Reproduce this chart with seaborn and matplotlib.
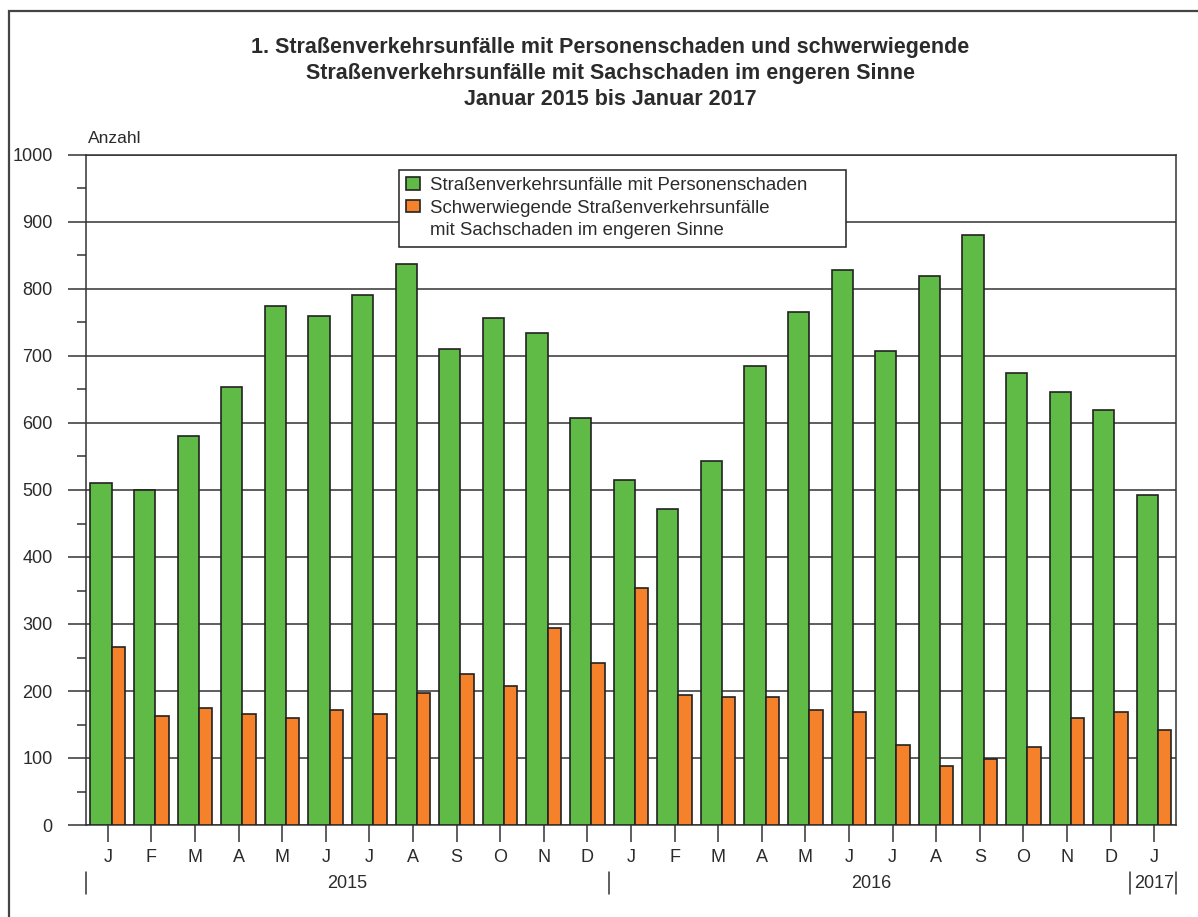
import numpy as np
import pandas as pd
import matplotlib
matplotlib.use("Agg")
import matplotlib.pyplot as plt
import matplotlib.patches as mpatches
import matplotlib.transforms as mtransforms
import matplotlib.colors as mcolors
import seaborn as sns

# --- Daten: Januar 2015 bis Januar 2017 ---
monate = ["J", "F", "M", "A", "M", "J", "J", "A", "S", "O", "N", "D",
          "J", "F", "M", "A", "M", "J", "J", "A", "S", "O", "N", "D",
          "J"]
schluessel = [f"{j}-{m:02d}" for j in (2015, 2016) for m in range(1, 13)] + ["2017-01"]

personenschaden = [510, 500, 580, 654, 774, 759, 791, 837, 710, 756, 734, 607,
                   515, 472, 544, 685, 765, 828, 708, 820, 880, 675, 647, 619,
                   492]
sachschaden = [265, 163, 174, 166, 160, 171, 166, 197, 225, 208, 294, 242,
               354, 194, 191, 191, 171, 168, 119, 88, 98, 116, 159, 168,
               142]

jahre = ["2015", "2016", "2017"]
jahr_mitte = [5.5, 17.5, 24]
jahr_grenzen = [-0.5, 11.5, 23.45, 24.5]

lab_p = "Straßenverkehrsunfälle mit Personenschaden      "
lab_s1 = "Schwerwiegende Straßenverkehrsunfälle"
lab_s2 = "mit Sachschaden im engeren Sinne"

df = pd.DataFrame({
    "monat": schluessel * 2,
    "anzahl": personenschaden + sachschaden,
    "reihe": ["P"] * len(schluessel) + ["S"] * len(schluessel),
})

GRUEN = "#5fba46"
ORANGE = "#f5822b"
TEXT = "#2b2b2b"
LINIE = "#333333"

sns.set_theme(style="white")
plt.rcParams["font.family"] = ["Liberation Sans", "DejaVu Sans"]
plt.rcParams["text.color"] = TEXT

fig = plt.figure(figsize=(11.98, 9.17), dpi=100)
ax = fig.add_axes([86 / 1198, 1 - 825 / 917, 1090 / 1198, 670 / 917])

sns.barplot(data=df, x="monat", y="anzahl", hue="reihe", order=schluessel,
            palette={"P": GRUEN, "S": ORANGE}, width=0.8, dodge=True,
            edgecolor="#222222", linewidth=1.2, saturation=1, ax=ax,
            legend=False, zorder=3)

# Balkenbreiten wie im Original: grün breiter, orange schmaler
gruen_r = mcolors.to_rgba(GRUEN)[0]
for p in ax.patches:
    x0 = p.get_x()
    if np.isclose(p.get_facecolor()[0], gruen_r, atol=0.02):
        p.set_width(0.485)
    else:
        p.set_x(x0 + 0.085)
        p.set_width(0.31)

ax.set_xlim(-0.5, 24.5)
ax.set_ylim(0, 1000)
ax.set_yticks(range(0, 1001, 100))
ax.set_yticks(range(50, 1000, 100), minor=True)
ax.set_xticks(range(len(monate)))
ax.set_xticklabels(monate)
ax.set_xlabel("")
ax.set_ylabel("")
ax.yaxis.grid(True, color=LINIE, linewidth=1.1, zorder=0)
ax.set_axisbelow(True)

for s in ax.spines.values():
    s.set_color(LINIE)
    s.set_linewidth(1.1)

ax.tick_params(axis="y", which="major", direction="out", length=13, width=1.1,
               color=LINIE, pad=11, labelsize=13, labelcolor=TEXT, left=True)
ax.tick_params(axis="y", which="minor", direction="out", length=6.5, width=1.1,
               color=LINIE, left=True)
ax.tick_params(axis="x", direction="out", length=12, width=1.1, color=LINIE,
               pad=5, labelsize=13, labelcolor=TEXT, bottom=True)

# Jahresbeschriftung
trans = mtransforms.blended_transform_factory(ax.transData, ax.transAxes)
for j, xm in zip(jahre, jahr_mitte):
    ax.text(xm, -0.087, j, transform=trans, ha="center", va="center",
            fontsize=13, color=TEXT)
for xg in jahr_grenzen:
    ax.plot([xg, xg], [-0.07, -0.103], transform=trans, color=LINIE,
            linewidth=1.1, clip_on=False)

ax.text(0.002, 1.014, "Anzahl", transform=ax.transAxes, fontsize=12.5,
        color=TEXT, ha="left", va="bottom")

# Legende
h = [mpatches.Patch(facecolor=GRUEN, edgecolor="#222222", linewidth=1.2),
     mpatches.Patch(facecolor=ORANGE, edgecolor="#222222", linewidth=1.2),
     mpatches.Patch(facecolor="none", edgecolor="none")]
leg = ax.legend(h, [lab_p, lab_s1, lab_s2], loc="upper left",
                bbox_to_anchor=(0.287, 0.978), borderaxespad=0, fancybox=False,
                framealpha=1, edgecolor="#222222", fontsize=13.4,
                handlelength=0.75, handleheight=0.65, handletextpad=0.55,
                labelspacing=0.3, borderpad=0.4)
leg.get_frame().set_linewidth(1.1)
leg.set_zorder(5)

fig.text(610 / 1198, 1 - 37 / 917,
         "1. Straßenverkehrsunfälle mit Personenschaden und schwerwiegende\n"
         "Straßenverkehrsunfälle mit Sachschaden im engeren Sinne\n"
         "Januar 2015 bis Januar 2017",
         ha="center", va="top", fontsize=15.5, fontweight="bold",
         linespacing=1.32, color=TEXT)

# Rahmen um die Grafik
fig.patches.append(mpatches.Rectangle((9 / 1198, -0.2), 1.2, 1.2 - 11 / 917,
                                      transform=fig.transFigure, fill=False,
                                      edgecolor="#444444", linewidth=1.6))

fig.savefig("out.png", dpi=100)
